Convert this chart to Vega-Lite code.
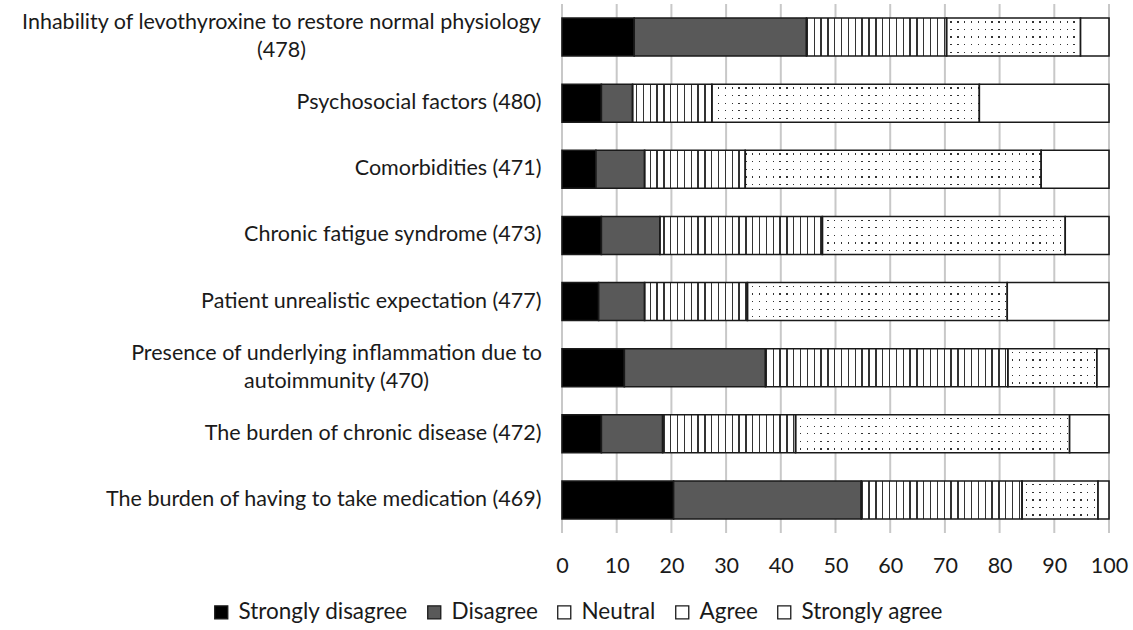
{
  "$schema": "https://vega.github.io/schema/vega-lite/v6.json",
  "width": 547,
  "height": 529,
  "autosize": {"type": "none"},
  "padding": {"left": 562, "top": 4, "right": 24, "bottom": 97},
  "background": "white",
  "config": {
    "view": {"stroke": null},
    "font": "Lato",
    "axis": {"labelColor": "#1a1a1a", "labelFont": "Lato"},
    "axisX": {"grid": false, "domain": false, "ticks": false, "labelFontSize": 21.5, "labelPadding": 22, "labelFlush": false, "title": null},
    "legend": {"labelFont": "Lato", "labelColor": "#1a1a1a"}
  },
  "datasets": {
    "survey": [
      {"category": "Inhability of levothyroxine to restore normal physiology (478)", "response": "Strongly disagree", "rank": 1, "pct": 13.2},
      {"category": "Inhability of levothyroxine to restore normal physiology (478)", "response": "Disagree", "rank": 2, "pct": 31.5},
      {"category": "Inhability of levothyroxine to restore normal physiology (478)", "response": "Neutral", "rank": 3, "pct": 25.6},
      {"category": "Inhability of levothyroxine to restore normal physiology (478)", "response": "Agree", "rank": 4, "pct": 24.5},
      {"category": "Inhability of levothyroxine to restore normal physiology (478)", "response": "Strongly agree", "rank": 5, "pct": 5.2},
      {"category": "Psychosocial factors (480)", "response": "Strongly disagree", "rank": 1, "pct": 7.2},
      {"category": "Psychosocial factors (480)", "response": "Disagree", "rank": 2, "pct": 5.7},
      {"category": "Psychosocial factors (480)", "response": "Neutral", "rank": 3, "pct": 14.5},
      {"category": "Psychosocial factors (480)", "response": "Agree", "rank": 4, "pct": 48.9},
      {"category": "Psychosocial factors (480)", "response": "Strongly agree", "rank": 5, "pct": 23.7},
      {"category": "Comorbidities (471)", "response": "Strongly disagree", "rank": 1, "pct": 6.2},
      {"category": "Comorbidities (471)", "response": "Disagree", "rank": 2, "pct": 8.9},
      {"category": "Comorbidities (471)", "response": "Neutral", "rank": 3, "pct": 18.4},
      {"category": "Comorbidities (471)", "response": "Agree", "rank": 4, "pct": 54.1},
      {"category": "Comorbidities (471)", "response": "Strongly agree", "rank": 5, "pct": 12.4},
      {"category": "Chronic fatigue syndrome (473)", "response": "Strongly disagree", "rank": 1, "pct": 7.2},
      {"category": "Chronic fatigue syndrome (473)", "response": "Disagree", "rank": 2, "pct": 10.7},
      {"category": "Chronic fatigue syndrome (473)", "response": "Neutral", "rank": 3, "pct": 29.7},
      {"category": "Chronic fatigue syndrome (473)", "response": "Agree", "rank": 4, "pct": 44.4},
      {"category": "Chronic fatigue syndrome (473)", "response": "Strongly agree", "rank": 5, "pct": 8.0},
      {"category": "Patient unrealistic expectation (477)", "response": "Strongly disagree", "rank": 1, "pct": 6.7},
      {"category": "Patient unrealistic expectation (477)", "response": "Disagree", "rank": 2, "pct": 8.4},
      {"category": "Patient unrealistic expectation (477)", "response": "Neutral", "rank": 3, "pct": 18.8},
      {"category": "Patient unrealistic expectation (477)", "response": "Agree", "rank": 4, "pct": 47.5},
      {"category": "Patient unrealistic expectation (477)", "response": "Strongly agree", "rank": 5, "pct": 18.6},
      {"category": "Presence of underlying inflammation due to autoimmunity (470)", "response": "Strongly disagree", "rank": 1, "pct": 11.4},
      {"category": "Presence of underlying inflammation due to autoimmunity (470)", "response": "Disagree", "rank": 2, "pct": 25.8},
      {"category": "Presence of underlying inflammation due to autoimmunity (470)", "response": "Neutral", "rank": 3, "pct": 44.3},
      {"category": "Presence of underlying inflammation due to autoimmunity (470)", "response": "Agree", "rank": 4, "pct": 16.3},
      {"category": "Presence of underlying inflammation due to autoimmunity (470)", "response": "Strongly agree", "rank": 5, "pct": 2.2},
      {"category": "The burden of chronic disease (472)", "response": "Strongly disagree", "rank": 1, "pct": 7.2},
      {"category": "The burden of chronic disease (472)", "response": "Disagree", "rank": 2, "pct": 11.2},
      {"category": "The burden of chronic disease (472)", "response": "Neutral", "rank": 3, "pct": 24.3},
      {"category": "The burden of chronic disease (472)", "response": "Agree", "rank": 4, "pct": 50.1},
      {"category": "The burden of chronic disease (472)", "response": "Strongly agree", "rank": 5, "pct": 7.2},
      {"category": "The burden of having to take medication (469)", "response": "Strongly disagree", "rank": 1, "pct": 20.4},
      {"category": "The burden of having to take medication (469)", "response": "Disagree", "rank": 2, "pct": 34.3},
      {"category": "The burden of having to take medication (469)", "response": "Neutral", "rank": 3, "pct": 29.4},
      {"category": "The burden of having to take medication (469)", "response": "Agree", "rank": 4, "pct": 13.9},
      {"category": "The burden of having to take medication (469)", "response": "Strongly agree", "rank": 5, "pct": 2.0}
    ],
    "gridticks": [
      {"tick": 0}, {"tick": 10}, {"tick": 20}, {"tick": 30}, {"tick": 40}, {"tick": 50},
      {"tick": 60}, {"tick": 70}, {"tick": 80}, {"tick": 90}, {"tick": 100}
    ]
  },
  "layer": [
    {
      "data": {"name": "gridticks"},
      "mark": {"type": "rule", "color": "#c8c8c8", "strokeWidth": 2},
      "encoding": {
        "x": {"field": "tick", "type": "quantitative", "scale": {"domain": [0, 100]}, "axis": {"title": null, "values": [0, 10, 20, 30, 40, 50, 60, 70, 80, 90, 100]}}
      }
    },
    {
      "data": {"name": "survey"},
      "transform": [
        {"stack": "pct", "groupby": ["category"], "sort": [{"field": "rank", "order": "ascending"}], "as": ["x0", "x1"]}
      ],
      "encoding": {
        "y": {
          "field": "category",
          "type": "nominal",
          "sort": [
            "Inhability of levothyroxine to restore normal physiology (478)",
            "Psychosocial factors (480)",
            "Comorbidities (471)",
            "Chronic fatigue syndrome (473)",
            "Patient unrealistic expectation (477)",
            "Presence of underlying inflammation due to autoimmunity (470)",
            "The burden of chronic disease (472)",
            "The burden of having to take medication (469)"
          ],
          "scale": {"paddingInner": 0.425, "paddingOuter": 0.2125},
          "axis": {
            "title": null,
            "domain": false,
            "ticks": false,
            "grid": false,
            "labelFontSize": 21.5,
            "labelLimit": 600,
            "labelLineHeight": 28,
            "labelExpr": "datum.value == 'Inhability of levothyroxine to restore normal physiology (478)' ? ['Inhability of levothyroxine to restore normal physiology', '(478)'] : datum.value == 'Presence of underlying inflammation due to autoimmunity (470)' ? ['Presence of underlying inflammation due to', 'autoimmunity (470)'] : datum.value",
            "labelAlign": {"condition": {"test": "indexof(datum.value, '(478)') >= 0 || indexof(datum.value, '(470)') >= 0", "value": "center"}, "value": "right"},
            "labelPadding": {"condition": [{"test": "indexof(datum.value, '(478)') >= 0", "value": 281}, {"test": "indexof(datum.value, '(470)') >= 0", "value": 226}], "value": 21},
            "labelOffset": {"condition": {"test": "indexof(datum.value, '(478)') >= 0 || indexof(datum.value, '(470)') >= 0", "value": -14}, "value": 0}
          }
        }
      },
      "layer": [
        {
          "transform": [
            {"aggregate": [{"op": "max", "field": "x1", "as": "total"}], "groupby": ["category"]}
          ],
          "mark": {
            "type": "bar",
            "fill": {
              "gradient": "linear", "x1": 0, "y1": 0, "x2": 1, "y2": 0,
              "stops": [
                {"offset":0,"color":"#fff"},{"offset":0.01,"color":"#fff"},{"offset":0.01,"color":"#333"},{"offset":0.0125,"color":"#333"},
                {"offset":0.0125,"color":"#fff"},{"offset":0.0225,"color":"#fff"},{"offset":0.0225,"color":"#333"},{"offset":0.025,"color":"#333"},
                {"offset":0.025,"color":"#fff"},{"offset":0.035,"color":"#fff"},{"offset":0.035,"color":"#333"},{"offset":0.0375,"color":"#333"},
                {"offset":0.0375,"color":"#fff"},{"offset":0.0475,"color":"#fff"},{"offset":0.0475,"color":"#333"},{"offset":0.05,"color":"#333"},
                {"offset":0.05,"color":"#fff"},{"offset":0.06,"color":"#fff"},{"offset":0.06,"color":"#333"},{"offset":0.0625,"color":"#333"},
                {"offset":0.0625,"color":"#fff"},{"offset":0.0725,"color":"#fff"},{"offset":0.0725,"color":"#333"},{"offset":0.075,"color":"#333"},
                {"offset":0.075,"color":"#fff"},{"offset":0.085,"color":"#fff"},{"offset":0.085,"color":"#333"},{"offset":0.0875,"color":"#333"},
                {"offset":0.0875,"color":"#fff"},{"offset":0.0975,"color":"#fff"},{"offset":0.0975,"color":"#333"},{"offset":0.1,"color":"#333"},
                {"offset":0.1,"color":"#fff"},{"offset":0.11,"color":"#fff"},{"offset":0.11,"color":"#333"},{"offset":0.1125,"color":"#333"},
                {"offset":0.1125,"color":"#fff"},{"offset":0.1225,"color":"#fff"},{"offset":0.1225,"color":"#333"},{"offset":0.125,"color":"#333"},
                {"offset":0.125,"color":"#fff"},{"offset":0.135,"color":"#fff"},{"offset":0.135,"color":"#333"},{"offset":0.1375,"color":"#333"},
                {"offset":0.1375,"color":"#fff"},{"offset":0.1475,"color":"#fff"},{"offset":0.1475,"color":"#333"},{"offset":0.15,"color":"#333"},
                {"offset":0.15,"color":"#fff"},{"offset":0.16,"color":"#fff"},{"offset":0.16,"color":"#333"},{"offset":0.1625,"color":"#333"},
                {"offset":0.1625,"color":"#fff"},{"offset":0.1725,"color":"#fff"},{"offset":0.1725,"color":"#333"},{"offset":0.175,"color":"#333"},
                {"offset":0.175,"color":"#fff"},{"offset":0.185,"color":"#fff"},{"offset":0.185,"color":"#333"},{"offset":0.1875,"color":"#333"},
                {"offset":0.1875,"color":"#fff"},{"offset":0.1975,"color":"#fff"},{"offset":0.1975,"color":"#333"},{"offset":0.2,"color":"#333"},
                {"offset":0.2,"color":"#fff"},{"offset":0.21,"color":"#fff"},{"offset":0.21,"color":"#333"},{"offset":0.2125,"color":"#333"},
                {"offset":0.2125,"color":"#fff"},{"offset":0.2225,"color":"#fff"},{"offset":0.2225,"color":"#333"},{"offset":0.225,"color":"#333"},
                {"offset":0.225,"color":"#fff"},{"offset":0.235,"color":"#fff"},{"offset":0.235,"color":"#333"},{"offset":0.2375,"color":"#333"},
                {"offset":0.2375,"color":"#fff"},{"offset":0.2475,"color":"#fff"},{"offset":0.2475,"color":"#333"},{"offset":0.25,"color":"#333"},
                {"offset":0.25,"color":"#fff"},{"offset":0.26,"color":"#fff"},{"offset":0.26,"color":"#333"},{"offset":0.2625,"color":"#333"},
                {"offset":0.2625,"color":"#fff"},{"offset":0.2725,"color":"#fff"},{"offset":0.2725,"color":"#333"},{"offset":0.275,"color":"#333"},
                {"offset":0.275,"color":"#fff"},{"offset":0.285,"color":"#fff"},{"offset":0.285,"color":"#333"},{"offset":0.2875,"color":"#333"},
                {"offset":0.2875,"color":"#fff"},{"offset":0.2975,"color":"#fff"},{"offset":0.2975,"color":"#333"},{"offset":0.3,"color":"#333"},
                {"offset":0.3,"color":"#fff"},{"offset":0.31,"color":"#fff"},{"offset":0.31,"color":"#333"},{"offset":0.3125,"color":"#333"},
                {"offset":0.3125,"color":"#fff"},{"offset":0.3225,"color":"#fff"},{"offset":0.3225,"color":"#333"},{"offset":0.325,"color":"#333"},
                {"offset":0.325,"color":"#fff"},{"offset":0.335,"color":"#fff"},{"offset":0.335,"color":"#333"},{"offset":0.3375,"color":"#333"},
                {"offset":0.3375,"color":"#fff"},{"offset":0.3475,"color":"#fff"},{"offset":0.3475,"color":"#333"},{"offset":0.35,"color":"#333"},
                {"offset":0.35,"color":"#fff"},{"offset":0.36,"color":"#fff"},{"offset":0.36,"color":"#333"},{"offset":0.3625,"color":"#333"},
                {"offset":0.3625,"color":"#fff"},{"offset":0.3725,"color":"#fff"},{"offset":0.3725,"color":"#333"},{"offset":0.375,"color":"#333"},
                {"offset":0.375,"color":"#fff"},{"offset":0.385,"color":"#fff"},{"offset":0.385,"color":"#333"},{"offset":0.3875,"color":"#333"},
                {"offset":0.3875,"color":"#fff"},{"offset":0.3975,"color":"#fff"},{"offset":0.3975,"color":"#333"},{"offset":0.4,"color":"#333"},
                {"offset":0.4,"color":"#fff"},{"offset":0.41,"color":"#fff"},{"offset":0.41,"color":"#333"},{"offset":0.4125,"color":"#333"},
                {"offset":0.4125,"color":"#fff"},{"offset":0.4225,"color":"#fff"},{"offset":0.4225,"color":"#333"},{"offset":0.425,"color":"#333"},
                {"offset":0.425,"color":"#fff"},{"offset":0.435,"color":"#fff"},{"offset":0.435,"color":"#333"},{"offset":0.4375,"color":"#333"},
                {"offset":0.4375,"color":"#fff"},{"offset":0.4475,"color":"#fff"},{"offset":0.4475,"color":"#333"},{"offset":0.45,"color":"#333"},
                {"offset":0.45,"color":"#fff"},{"offset":0.46,"color":"#fff"},{"offset":0.46,"color":"#333"},{"offset":0.4625,"color":"#333"},
                {"offset":0.4625,"color":"#fff"},{"offset":0.4725,"color":"#fff"},{"offset":0.4725,"color":"#333"},{"offset":0.475,"color":"#333"},
                {"offset":0.475,"color":"#fff"},{"offset":0.485,"color":"#fff"},{"offset":0.485,"color":"#333"},{"offset":0.4875,"color":"#333"},
                {"offset":0.4875,"color":"#fff"},{"offset":0.4975,"color":"#fff"},{"offset":0.4975,"color":"#333"},{"offset":0.5,"color":"#333"},
                {"offset":0.5,"color":"#fff"},{"offset":0.51,"color":"#fff"},{"offset":0.51,"color":"#333"},{"offset":0.5125,"color":"#333"},
                {"offset":0.5125,"color":"#fff"},{"offset":0.5225,"color":"#fff"},{"offset":0.5225,"color":"#333"},{"offset":0.525,"color":"#333"},
                {"offset":0.525,"color":"#fff"},{"offset":0.535,"color":"#fff"},{"offset":0.535,"color":"#333"},{"offset":0.5375,"color":"#333"},
                {"offset":0.5375,"color":"#fff"},{"offset":0.5475,"color":"#fff"},{"offset":0.5475,"color":"#333"},{"offset":0.55,"color":"#333"},
                {"offset":0.55,"color":"#fff"},{"offset":0.56,"color":"#fff"},{"offset":0.56,"color":"#333"},{"offset":0.5625,"color":"#333"},
                {"offset":0.5625,"color":"#fff"},{"offset":0.5725,"color":"#fff"},{"offset":0.5725,"color":"#333"},{"offset":0.575,"color":"#333"},
                {"offset":0.575,"color":"#fff"},{"offset":0.585,"color":"#fff"},{"offset":0.585,"color":"#333"},{"offset":0.5875,"color":"#333"},
                {"offset":0.5875,"color":"#fff"},{"offset":0.5975,"color":"#fff"},{"offset":0.5975,"color":"#333"},{"offset":0.6,"color":"#333"},
                {"offset":0.6,"color":"#fff"},{"offset":0.61,"color":"#fff"},{"offset":0.61,"color":"#333"},{"offset":0.6125,"color":"#333"},
                {"offset":0.6125,"color":"#fff"},{"offset":0.6225,"color":"#fff"},{"offset":0.6225,"color":"#333"},{"offset":0.625,"color":"#333"},
                {"offset":0.625,"color":"#fff"},{"offset":0.635,"color":"#fff"},{"offset":0.635,"color":"#333"},{"offset":0.6375,"color":"#333"},
                {"offset":0.6375,"color":"#fff"},{"offset":0.6475,"color":"#fff"},{"offset":0.6475,"color":"#333"},{"offset":0.65,"color":"#333"},
                {"offset":0.65,"color":"#fff"},{"offset":0.66,"color":"#fff"},{"offset":0.66,"color":"#333"},{"offset":0.6625,"color":"#333"},
                {"offset":0.6625,"color":"#fff"},{"offset":0.6725,"color":"#fff"},{"offset":0.6725,"color":"#333"},{"offset":0.675,"color":"#333"},
                {"offset":0.675,"color":"#fff"},{"offset":0.685,"color":"#fff"},{"offset":0.685,"color":"#333"},{"offset":0.6875,"color":"#333"},
                {"offset":0.6875,"color":"#fff"},{"offset":0.6975,"color":"#fff"},{"offset":0.6975,"color":"#333"},{"offset":0.7,"color":"#333"},
                {"offset":0.7,"color":"#fff"},{"offset":0.71,"color":"#fff"},{"offset":0.71,"color":"#333"},{"offset":0.7125,"color":"#333"},
                {"offset":0.7125,"color":"#fff"},{"offset":0.7225,"color":"#fff"},{"offset":0.7225,"color":"#333"},{"offset":0.725,"color":"#333"},
                {"offset":0.725,"color":"#fff"},{"offset":0.735,"color":"#fff"},{"offset":0.735,"color":"#333"},{"offset":0.7375,"color":"#333"},
                {"offset":0.7375,"color":"#fff"},{"offset":0.7475,"color":"#fff"},{"offset":0.7475,"color":"#333"},{"offset":0.75,"color":"#333"},
                {"offset":0.75,"color":"#fff"},{"offset":0.76,"color":"#fff"},{"offset":0.76,"color":"#333"},{"offset":0.7625,"color":"#333"},
                {"offset":0.7625,"color":"#fff"},{"offset":0.7725,"color":"#fff"},{"offset":0.7725,"color":"#333"},{"offset":0.775,"color":"#333"},
                {"offset":0.775,"color":"#fff"},{"offset":0.785,"color":"#fff"},{"offset":0.785,"color":"#333"},{"offset":0.7875,"color":"#333"},
                {"offset":0.7875,"color":"#fff"},{"offset":0.7975,"color":"#fff"},{"offset":0.7975,"color":"#333"},{"offset":0.8,"color":"#333"},
                {"offset":0.8,"color":"#fff"},{"offset":0.81,"color":"#fff"},{"offset":0.81,"color":"#333"},{"offset":0.8125,"color":"#333"},
                {"offset":0.8125,"color":"#fff"},{"offset":0.8225,"color":"#fff"},{"offset":0.8225,"color":"#333"},{"offset":0.825,"color":"#333"},
                {"offset":0.825,"color":"#fff"},{"offset":0.835,"color":"#fff"},{"offset":0.835,"color":"#333"},{"offset":0.8375,"color":"#333"},
                {"offset":0.8375,"color":"#fff"},{"offset":0.8475,"color":"#fff"},{"offset":0.8475,"color":"#333"},{"offset":0.85,"color":"#333"},
                {"offset":0.85,"color":"#fff"},{"offset":0.86,"color":"#fff"},{"offset":0.86,"color":"#333"},{"offset":0.8625,"color":"#333"},
                {"offset":0.8625,"color":"#fff"},{"offset":0.8725,"color":"#fff"},{"offset":0.8725,"color":"#333"},{"offset":0.875,"color":"#333"},
                {"offset":0.875,"color":"#fff"},{"offset":0.885,"color":"#fff"},{"offset":0.885,"color":"#333"},{"offset":0.8875,"color":"#333"},
                {"offset":0.8875,"color":"#fff"},{"offset":0.8975,"color":"#fff"},{"offset":0.8975,"color":"#333"},{"offset":0.9,"color":"#333"},
                {"offset":0.9,"color":"#fff"},{"offset":0.91,"color":"#fff"},{"offset":0.91,"color":"#333"},{"offset":0.9125,"color":"#333"},
                {"offset":0.9125,"color":"#fff"},{"offset":0.9225,"color":"#fff"},{"offset":0.9225,"color":"#333"},{"offset":0.925,"color":"#333"},
                {"offset":0.925,"color":"#fff"},{"offset":0.935,"color":"#fff"},{"offset":0.935,"color":"#333"},{"offset":0.9375,"color":"#333"},
                {"offset":0.9375,"color":"#fff"},{"offset":0.9475,"color":"#fff"},{"offset":0.9475,"color":"#333"},{"offset":0.95,"color":"#333"},
                {"offset":0.95,"color":"#fff"},{"offset":0.96,"color":"#fff"},{"offset":0.96,"color":"#333"},{"offset":0.9625,"color":"#333"},
                {"offset":0.9625,"color":"#fff"},{"offset":0.9725,"color":"#fff"},{"offset":0.9725,"color":"#333"},{"offset":0.975,"color":"#333"},
                {"offset":0.975,"color":"#fff"},{"offset":0.985,"color":"#fff"},{"offset":0.985,"color":"#333"},{"offset":0.9875,"color":"#333"},
                {"offset":0.9875,"color":"#fff"},{"offset":0.9975,"color":"#fff"},{"offset":0.9975,"color":"#333"},{"offset":1,"color":"#333"}
              ]
            }
          },
          "encoding": {
            "x": {"field": "total", "type": "quantitative", "stack": null}
          }
        },
        {
          "transform": [{"filter": "datum.response == 'Agree'"}],
          "mark": {
            "type": "bar",
            "fill": {
              "gradient": "linear", "x1": 0, "y1": 0, "x2": 0, "y2": 1,
              "stops": [
                {"offset":0,"color":"#fff"},{"offset":0.0825,"color":"#fff"},{"offset":0.0825,"color":"rgba(255,255,255,0)"},{"offset":0.1175,"color":"rgba(255,255,255,0)"},
                {"offset":0.1175,"color":"#fff"},{"offset":0.2825,"color":"#fff"},{"offset":0.2825,"color":"rgba(255,255,255,0)"},{"offset":0.3175,"color":"rgba(255,255,255,0)"},
                {"offset":0.3175,"color":"#fff"},{"offset":0.4825,"color":"#fff"},{"offset":0.4825,"color":"rgba(255,255,255,0)"},{"offset":0.5175,"color":"rgba(255,255,255,0)"},
                {"offset":0.5175,"color":"#fff"},{"offset":0.6825,"color":"#fff"},{"offset":0.6825,"color":"rgba(255,255,255,0)"},{"offset":0.7175,"color":"rgba(255,255,255,0)"},
                {"offset":0.7175,"color":"#fff"},{"offset":0.8825,"color":"#fff"},{"offset":0.8825,"color":"rgba(255,255,255,0)"},{"offset":0.9175,"color":"rgba(255,255,255,0)"},
                {"offset":0.9175,"color":"#fff"},{"offset":1,"color":"#fff"}
              ]
            }
          },
          "encoding": {
            "x": {"field": "x0", "type": "quantitative"},
            "x2": {"field": "x1"}
          }
        },
        {
          "mark": {"type": "bar", "stroke": "#1a1a1a", "strokeWidth": 1.6},
          "encoding": {
            "x": {"field": "x0", "type": "quantitative"},
            "x2": {"field": "x1"},
            "fillOpacity": {"condition": {"test": "datum.response == 'Neutral' || datum.response == 'Agree'", "value": 0}, "value": 1},
            "color": {
              "field": "response",
              "type": "nominal",
              "sort": ["Strongly disagree", "Disagree", "Neutral", "Agree", "Strongly agree"],
              "scale": {
                "domain": ["Strongly disagree", "Disagree", "Neutral", "Agree", "Strongly agree"],
                "range": ["#000000", "#595959", "#ffffff", "#ffffff", "#ffffff"]
              },
              "legend": {
                "title": null,
                "orient": "none",
                "direction": "horizontal",
                "columns": 5,
                "legendX": -352,
                "legendY": 597,
                "symbolType": "square",
                "symbolSize": 170,
                "symbolStrokeColor": "#1a1a1a",
                "symbolStrokeWidth": 1.3,
                "symbolOpacity": 1,
                "labelFontSize": 22.5,
                "labelLimit": 400,
                "labelOffset": 6,
                "columnPadding": 15,
                "encode": {
                  "symbols": {
                    "update": {
                      "stroke": {"value": "#1a1a1a"},
                      "strokeWidth": {"value": 1.3},
                      "fillOpacity": {"value": 1}
                    }
                  }
                }
              }
            }
          }
        }
      ]
    }
  ]
}
